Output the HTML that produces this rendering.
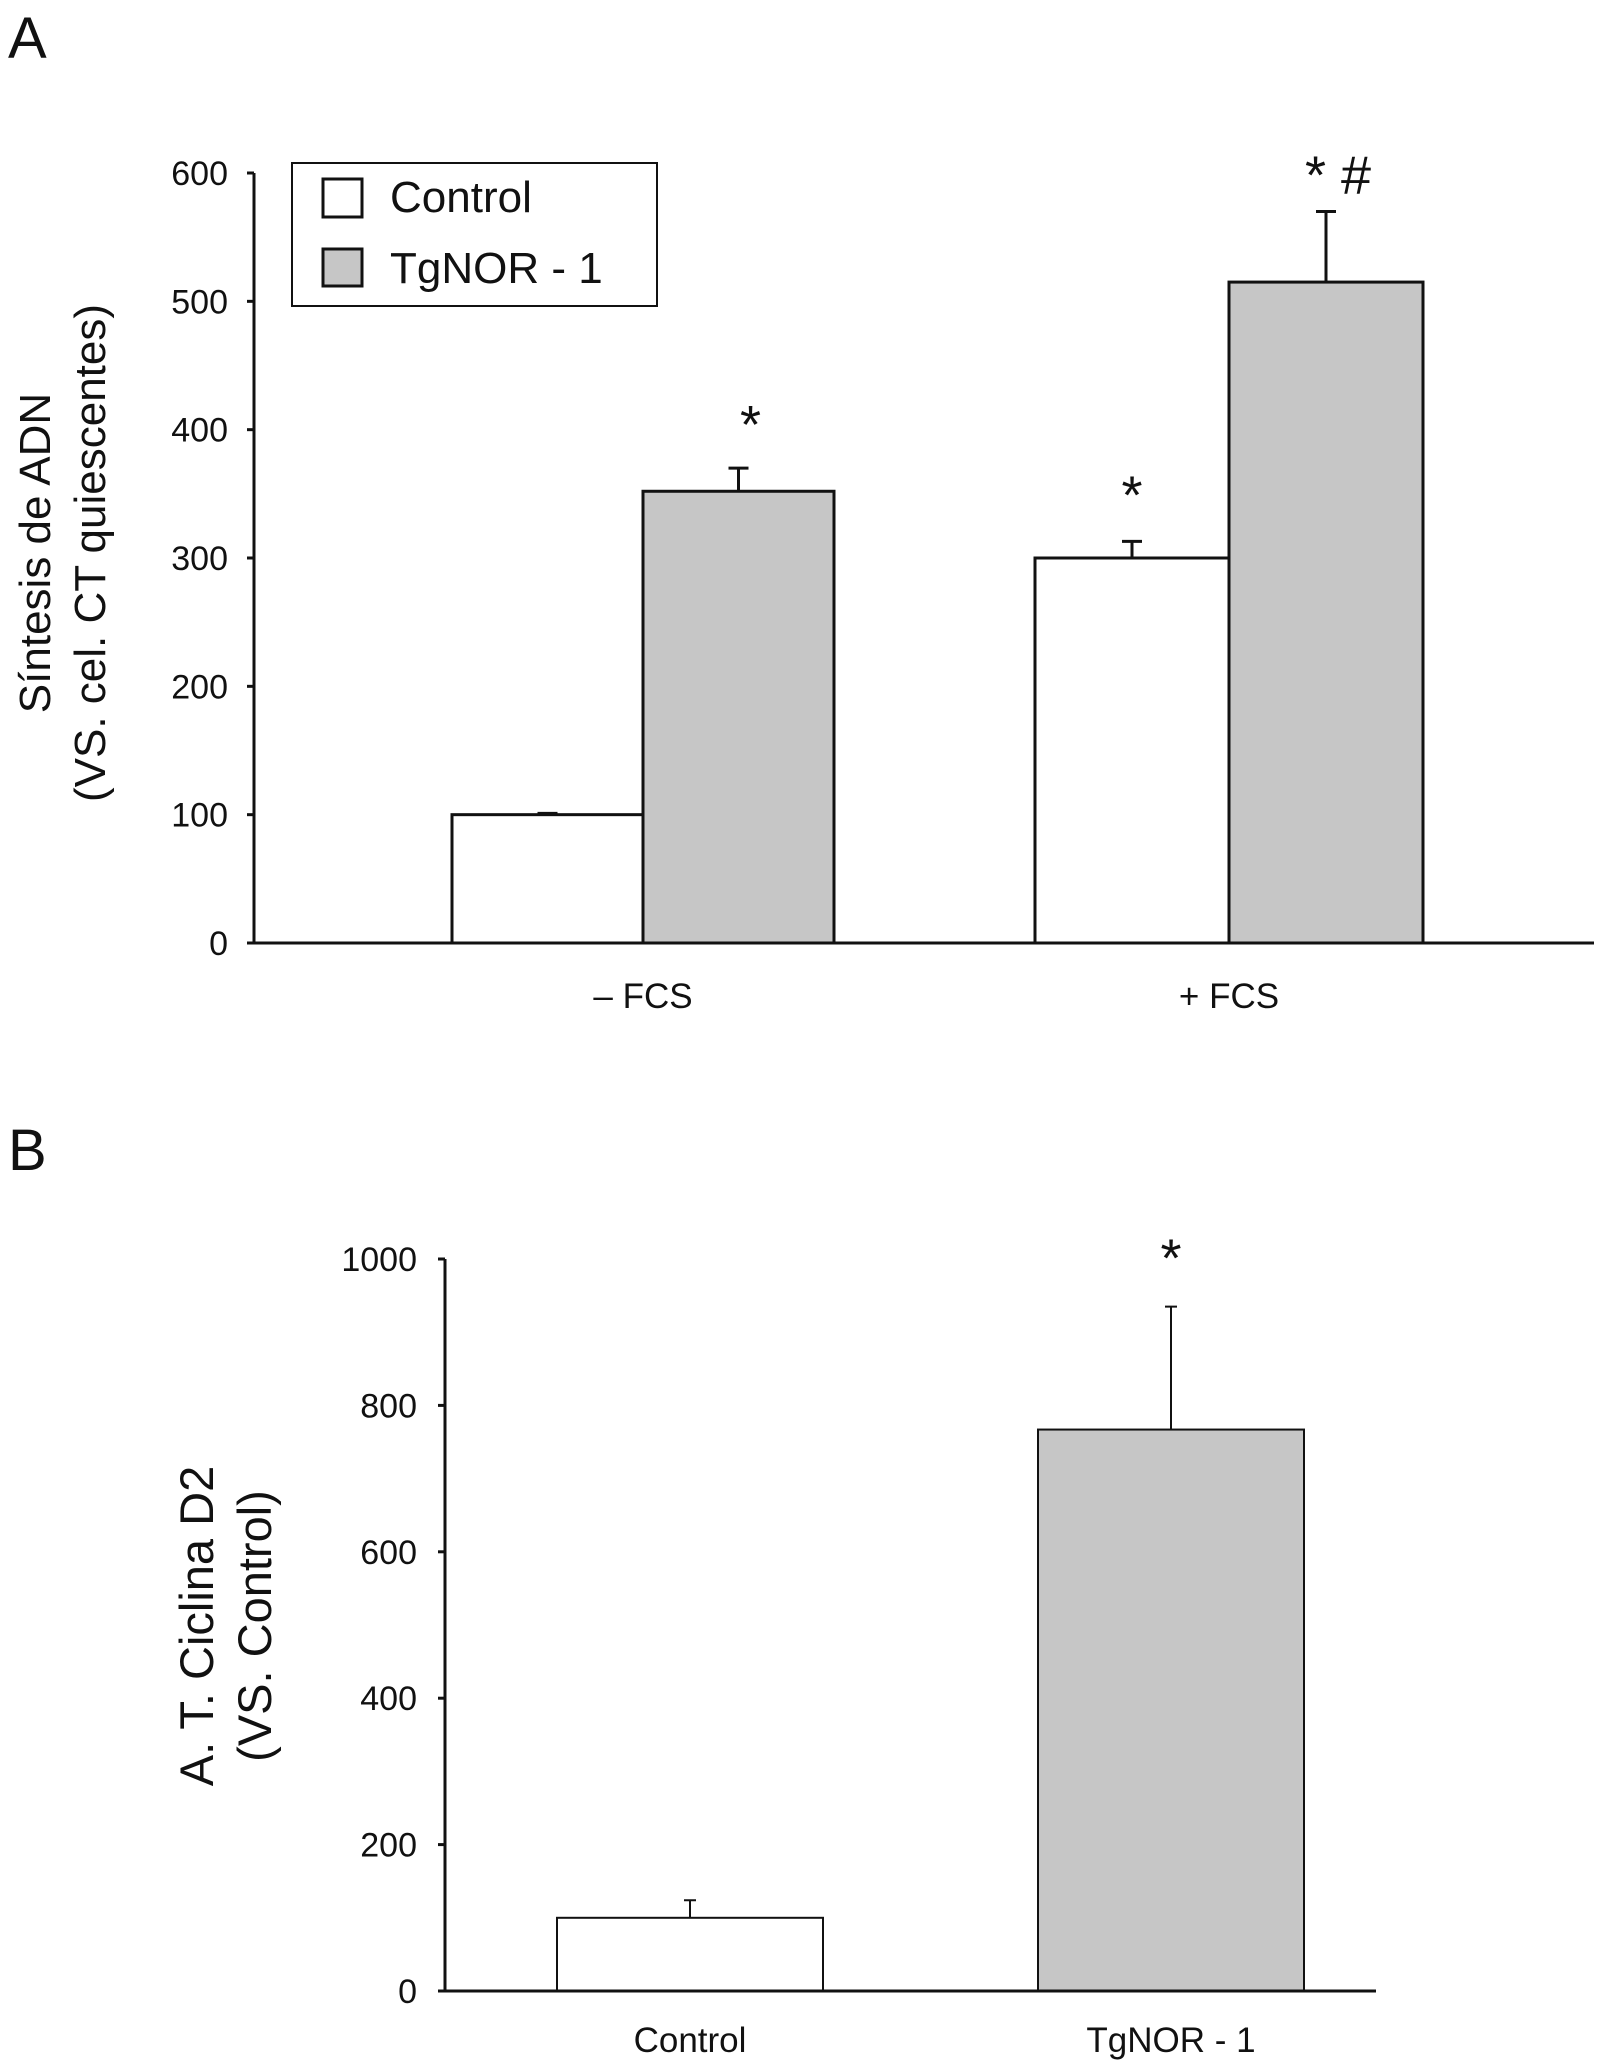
<!DOCTYPE html>
<html><head><meta charset="utf-8"><style>
html,body{margin:0;padding:0;background:#fff}
svg{display:block}
text{font-family:"Liberation Sans",sans-serif;fill:#111}
</style></head><body>
<svg id="fig" width="1598" height="2069" viewBox="0 0 1598 2069" xmlns="http://www.w3.org/2000/svg">
<g id="A"></g>
<g id="B"></g>
</svg>
<script>
const NS="http://www.w3.org/2000/svg";
// Panel A data
const aGroups=["– FCS","+ FCS"];
const aControl=[100,300];
const aControlErr=[101,313];
const aTg=[352,515];
const aTgErr=[370,570];
const aTicks=[0,100,200,300,400,500,600];
const aMarksControl=["","*"];
const aMarksTg=["*","* #"];
// Panel B data
const bCats=["Control","TgNOR - 1"];
const bVals=[100,767];
const bErr=[124,935];
const bTicks=[0,200,400,600,800,1000];
const bMarks=["","*"];

function mk(p,tag,attrs,txt){const e=document.createElementNS(NS,tag);for(const k in attrs)e.setAttribute(k,attrs[k]);if(txt!==undefined)e.textContent=txt;p.appendChild(e);return e;}

// ---- Panel A ----
const A=document.getElementById('A');
const ay=v=>943-(v/600)*(943-173);
const ax0=254;
let t=mk(A,'text',{x:8,y:58,'font-size':58});t.textContent='A';


aTicks.forEach(v=>{
  let l=mk(A,'line',{x1:ax0-7,x2:ax0,y1:ay(v),y2:ay(v),stroke:'#111','stroke-width':3});
  
  
  let tx=mk(A,'text',{x:228,y:ay(v)+12,'font-size':34,'text-anchor':'end'},String(v));
  
  
});
const aCtrlX=[452,1035],aW=[191,194];
aGroups.forEach((g,i)=>{
  const x1=aCtrlX[i],w=aW[i],x2=x1+w;
  let e1=mk(A,'path',{d:`M${x1+w/2} ${ay(aControl[i])}V${ay(aControlErr[i])}M${x1+w/2-10} ${ay(aControlErr[i])}H${x1+w/2+10}`,stroke:'#111','stroke-width':3,fill:'none'});
  
  
  let e2=mk(A,'path',{d:`M${x2+w/2} ${ay(aTg[i])}V${ay(aTgErr[i])}M${x2+w/2-10} ${ay(aTgErr[i])}H${x2+w/2+10}`,stroke:'#111','stroke-width':3,fill:'none'});
  
  
  let b1=mk(A,'rect',{x:x1,y:ay(aControl[i]),width:w,height:ay(0)-ay(aControl[i]),fill:'#fff',stroke:'#111','stroke-width':3});
  
  
  let b2=mk(A,'rect',{x:x2,y:ay(aTg[i]),width:w,height:ay(0)-ay(aTg[i]),fill:'#c6c6c6',stroke:'#111','stroke-width':3});
  
  
  if(aMarksControl[i]){let s=mk(A,'text',{x:x1+w/2,y:ay(aControlErr[i])-28,'font-size':54,'text-anchor':'middle'},aMarksControl[i]);
    
    }
  if(aMarksTg[i]){let s=mk(A,'text',{x:x2+w/2+12,y:ay(aTgErr[i])-(i==1?18:25),'font-size':54,'text-anchor':'middle'},aMarksTg[i]);
    
    }
  let xl=mk(A,'text',{x:x2,y:1008,'font-size':35,'text-anchor':'middle'},g);
  
  
});
let axA=mk(A,'path',{d:`M${ax0} 173V943H1594`,stroke:'#111','stroke-width':3,fill:'none'});


let ytA=mk(A,'text',{transform:'translate(50,553) rotate(-90)','font-size':44,'text-anchor':'middle'},'Síntesis de ADN');


let ytA2=mk(A,'text',{transform:'translate(105,553) rotate(-90)','font-size':44,'text-anchor':'middle'},'(VS. cel. CT quiescentes)');


const lg=mk(A,'g',{});


mk(lg,'rect',{x:292,y:163,width:365,height:143,fill:'#fff',stroke:'#111','stroke-width':2});
let l1=mk(lg,'rect',{x:323,y:179,width:39,height:38,fill:'#fff',stroke:'#111','stroke-width':3});


let lt1=mk(lg,'text',{x:390,y:212,'font-size':44},'Control');


let l2=mk(lg,'rect',{x:323,y:249,width:39,height:37,fill:'#c6c6c6',stroke:'#111','stroke-width':3});


let lt2=mk(lg,'text',{x:390,y:283,'font-size':44},'TgNOR - 1');



// ---- Panel B ----
const B=document.getElementById('B');
const by=v=>1991-(v/1000)*(1991-1259);
const bx0=445;
let tb=mk(B,'text',{x:8,y:1170,'font-size':58},'B');


bTicks.forEach(v=>{
  let l=mk(B,'line',{x1:bx0-7,x2:bx0,y1:by(v),y2:by(v),stroke:'#111','stroke-width':3});
  
  
  let tx=mk(B,'text',{x:417,y:by(v)+12,'font-size':34,'text-anchor':'end'},String(v));
  
  
});
const bX=[557,1038],bW=266;
bCats.forEach((c,i)=>{
  const x=bX[i],cx=x+bW/2;
  let e=mk(B,'path',{d:`M${cx} ${by(bVals[i])}V${by(bErr[i])}M${cx-6} ${by(bErr[i])}H${cx+6}`,stroke:'#111','stroke-width':2,fill:'none'});
  
  
  let b=mk(B,'rect',{x:x,y:by(bVals[i]),width:bW,height:by(0)-by(bVals[i]),fill:i?'#c6c6c6':'#fff',stroke:'#111','stroke-width':2});
  
  
  if(bMarks[i]){let s=mk(B,'text',{x:cx,y:by(bErr[i])-30,'font-size':54,'text-anchor':'middle'},bMarks[i]);
    
    }
  let xl=mk(B,'text',{x:cx,y:2052,'font-size':35,'text-anchor':'middle'},c);
  
  
});
let axB=mk(B,'path',{d:`M${bx0} 1259V1991H1376`,stroke:'#111','stroke-width':3,fill:'none'});


let ytB=mk(B,'text',{transform:'translate(213,1626) rotate(-90)','font-size':47,'text-anchor':'middle'},'A. T. Ciclina D2');


let ytB2=mk(B,'text',{transform:'translate(271,1626) rotate(-90)','font-size':47,'text-anchor':'middle'},'(VS. Control)');


</script>
</body></html>
